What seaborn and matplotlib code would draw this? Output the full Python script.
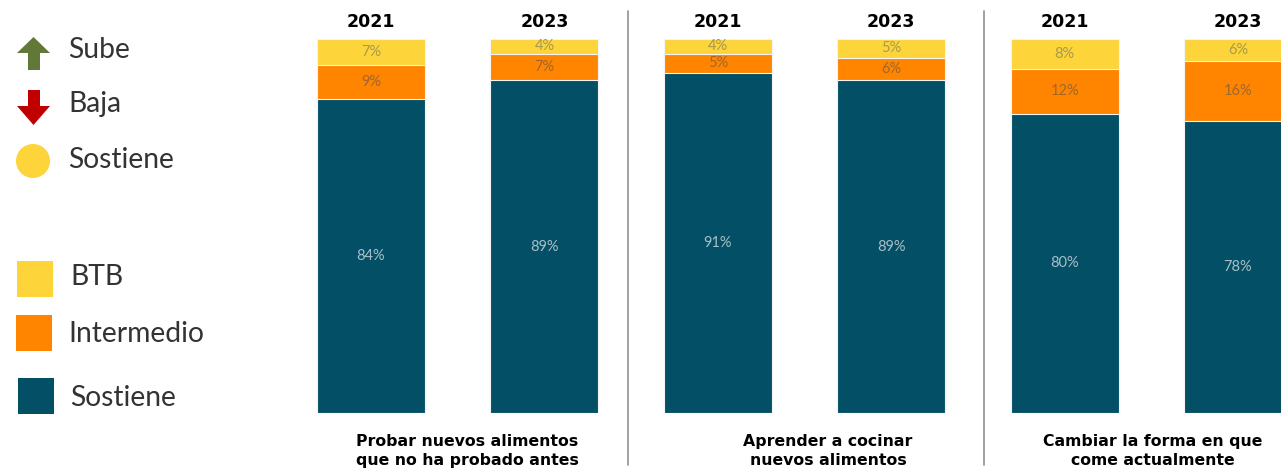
import matplotlib
matplotlib.use("Agg")
import matplotlib.pyplot as plt
import matplotlib.patches as mpatches
import seaborn as sns
import pandas as pd
import numpy as np

# ---------------- data ----------------
years = ["2021", "2023"]
categories = [
    "Probar nuevos alimentos\nque no ha probado antes",
    "Aprender a cocinar\nnuevos alimentos",
    "Cambiar la forma en que\ncome actualmente",
]
sostiene = [84, 89, 91, 89, 80, 78]
intermedio = [9, 7, 5, 6, 12, 16]
btb = [7, 4, 4, 5, 8, 6]

legend_trend = ["Sube", "Baja", "Sostiene"]
legend_segments = ["BTB", "Intermedio", "Sostiene"]

# ---------------- style ----------------
C_YEL = "#FDD43A"
C_ORA = "#FF8500"
C_DARK = "#034F66"
C_GREEN = "#627838"
C_RED = "#C00000"

sns.set_theme(style="white")
plt.rcParams["font.family"] = ["Lato", "DejaVu Sans"]

W, H = 1281, 470
fig = plt.figure(figsize=(W / 100, H / 100), dpi=100)

# bar axes: pixel mapping x_data = (px - 371)/173.4
px0, step = 371.0, 173.4
left_px, right_px = 290, 1281
bot_px, top_px = 413, 39
ax = fig.add_axes([left_px / W, (H - bot_px) / H,
                   (right_px - left_px) / W, (bot_px - top_px) / H])

bars = [f"{c[:6]}-{y}" for c in categories for y in years]
df = pd.DataFrame({
    "bar": bars,
    "sostiene": sostiene,
    "intermedio": intermedio,
    "btb": btb,
})
df["top2"] = df["sostiene"] + df["intermedio"]
df["top3"] = df["top2"] + df["btb"]

bw = 108 / step
common = dict(data=df, x="bar", order=bars, width=bw, ax=ax,
              edgecolor="#F4F4F4", linewidth=0.8, saturation=1)
sns.barplot(y="top3", color=C_YEL, **common)
sns.barplot(y="top2", color=C_ORA, **common)
sns.barplot(y="sostiene", color=C_DARK, **common)

ax.set_xlim((left_px - px0) / step, (right_px - px0) / step)
ax.set_ylim(0, 100)
ax.set_axis_off()

# value labels
LBL = dict(ha="center", va="center", fontsize=10.5, fontweight="normal",
           family=["Lato", "DejaVu Sans"])
for i in range(len(bars)):
    s, m, b = sostiene[i], intermedio[i], btb[i]
    ax.text(i, s / 2, f"{s}%", color="#A9BEC6", **LBL)
    ax.text(i, s + m / 2, f"{m}%", color="#A0662C", **LBL)
    ax.text(i, s + m + b / 2, f"{b}%", color="#A89A4E", **LBL)

# year labels
for i in range(len(bars)):
    ax.text(i, 100 + (top_px - 22) / (bot_px - top_px) * 100, years[i % 2],
            ha="center", va="center", fontsize=12.5, fontweight="bold",
            color="black", family=["DejaVu Sans"], clip_on=False)

# separators
for sx in [(628 - px0) / step, (984 - px0) / step]:
    ax.plot([sx, sx], [(bot_px - 11) / 3.74, (bot_px - 465) / 3.74],
            color="#9A9A9A", lw=1.3, clip_on=False)

# category labels
cat_x = [(467 - px0) / step, (828 - px0) / step, (1153 - px0) / step]
for cx, lab in zip(cat_x, categories):
    ax.text(cx, (bot_px - 451) / 3.74, lab, ha="center", va="center",
            fontsize=11.3, fontweight="bold", family=["DejaVu Sans"],
            linespacing=1.32, color="black", clip_on=False)

# ---------------- legend (pixel-space overlay) ----------------
lg = fig.add_axes([0, 0, 1, 1], facecolor="none")
lg.set_xlim(0, W)
lg.set_ylim(H, 0)
lg.set_axis_off()

up = [(33.5, 37), (50, 53), (40, 53), (40, 70), (28, 70), (28, 53), (17, 53)]
down = [(28, 90), (40, 90), (40, 106), (50, 106), (33.5, 125), (17, 106), (28, 106)]
lg.add_patch(mpatches.Polygon(up, closed=True, color=C_GREEN, lw=0))
lg.add_patch(mpatches.Polygon(down, closed=True, color=C_RED, lw=0))
lg.add_patch(mpatches.Circle((33, 161), 17, color=C_YEL, lw=0))

for (x0, y0), col in zip([(17, 261), (16, 315), (18, 378)], [C_YEL, C_ORA, C_DARK]):
    lg.add_patch(mpatches.Rectangle((x0, y0), 36, 36, color=col, lw=0))

LEG = dict(ha="left", va="center", fontsize=20.3, fontweight="normal",
           color="#333333", family=["Lato", "DejaVu Sans"])
for lab, y in zip(legend_trend, [50, 104, 160]):
    lg.text(68, y, lab, **LEG)
for lab, (x, y) in zip(legend_segments, [(70, 277), (68, 334), (70, 398)]):
    lg.text(x, y, lab, **LEG)

fig.savefig("out.png", dpi=100)
